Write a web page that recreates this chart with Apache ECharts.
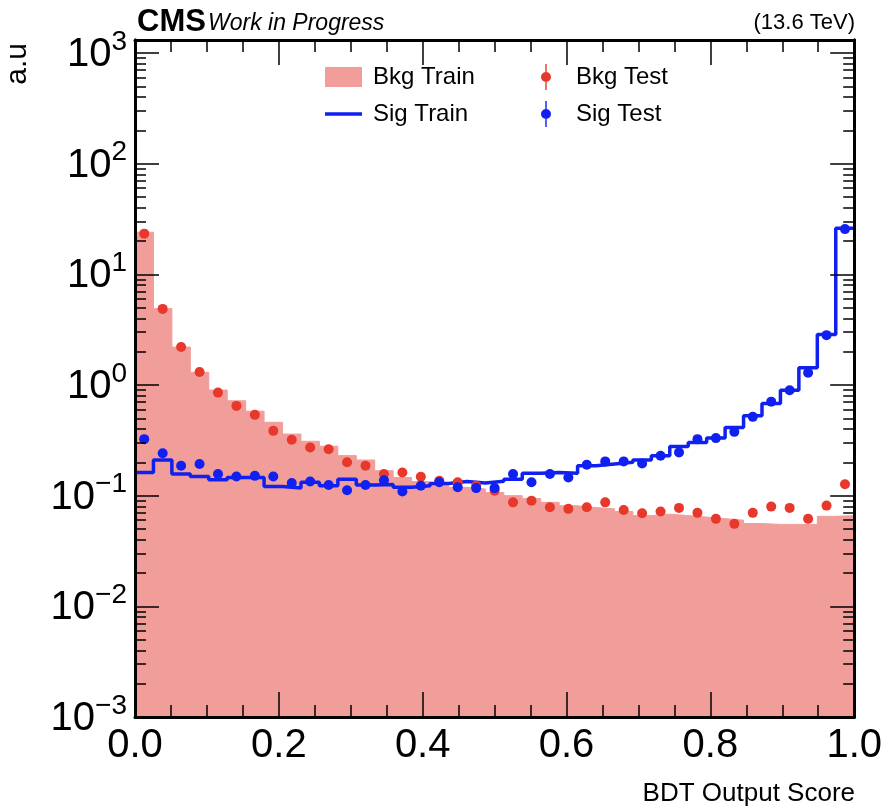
<!DOCTYPE html>
<html>
<head>
<meta charset="utf-8">
<script src="https://cdn.jsdelivr.net/npm/echarts@6.0.0/dist/echarts.min.js"></script>
<style>
  html, body { margin: 0; padding: 0; background: #fff; }
  #main { width: 885px; height: 811px; }
</style>
</head>
<body>
<div id="main"></div>
<script>
// 39 bins on [0, 1]
const nBins = 39
const bkgTrain = [24, 4.9, 2.2, 1.3, 0.9, 0.72, 0.58, 0.46, 0.36, 0.31, 0.28, 0.23, 0.21,
  0.168, 0.146, 0.134, 0.127, 0.119, 0.115, 0.107, 0.100, 0.094, 0.087, 0.081, 0.078, 0.076,
  0.072, 0.066, 0.068, 0.066, 0.064, 0.062, 0.060, 0.056, 0.055, 0.055, 0.055, 0.065, 0.066]
const bkgTest = [23.3, 4.87, 2.2, 1.31, 0.853, 0.647, 0.537, 0.385, 0.32, 0.272, 0.263, 0.2, 0.186,
  0.157, 0.162, 0.148, 0.136, 0.132, 0.123, 0.111, 0.087, 0.09, 0.0785, 0.076, 0.0785, 0.087,
  0.0743, 0.0693, 0.0718, 0.0775, 0.0699, 0.0617, 0.0556, 0.0699, 0.0796, 0.0775, 0.0617, 0.0813, 0.127]
const sigTrain = [0.162, 0.21, 0.157, 0.149, 0.139, 0.146, 0.146, 0.121, 0.117, 0.132, 0.123, 0.141, 0.125,
  0.126, 0.119, 0.123, 0.129, 0.134, 0.13, 0.135, 0.141, 0.159, 0.162, 0.159, 0.186, 0.193,
  0.2, 0.21, 0.229, 0.278, 0.302, 0.331, 0.413, 0.526, 0.68, 0.896, 1.43, 2.86, 26.1]
const sigTest = [0.324, 0.242, 0.186, 0.193, 0.157, 0.149, 0.151, 0.149, 0.13, 0.134, 0.125, 0.112, 0.125,
  0.138, 0.109, 0.123, 0.132, 0.119, 0.117, 0.117, 0.157, 0.132, 0.157, 0.146, 0.19, 0.204,
  0.204, 0.195, 0.229, 0.246, 0.324, 0.331, 0.377, 0.515, 0.707, 0.896, 1.29, 2.82, 25.6]
// y axis decades (exponents)
const yDecades = [-3, -2, -1, 0, 1, 2, 3]
const logMax = 3.117

const font = 'Liberation Sans'
const bkgFill = '#f19e9b'
const red = '#e8372b'
const blue = '#1020f0'

function stepData(vals) {
  const out = vals.map((v, i) => [i / nBins, v])
  out.push([1, vals[vals.length - 1]])
  return out
}
function pointData(vals) {
  return vals.map((v, i) => [(i + 0.5) / nBins, v])
}
const minorVals = []
yDecades.slice(0, -1).forEach((d) => {
  for (let k = 2; k <= 9; k++) minorVals.push(d + Math.log10(k))
})

const frameLine = { show: true, onZero: false, lineStyle: { color: '#000', width: 3 } }
const tickStyle = { color: '#000', width: 1.5 }

function yTickAxis(position, major, withLabel) {
  return {
    type: 'value',
    min: -3,
    max: logMax,
    position: position,
    z: 10,
    axisLine: frameLine,
    axisTick: {
      show: true,
      inside: true,
      length: major ? 24 : 11,
      lineStyle: tickStyle,
      customValues: major ? yDecades : minorVals
    },
    axisLabel: withLabel ? {
      show: true,
      margin: 8,
      customValues: yDecades,
      formatter: (v) => '{b|10}{s|' + (v < 0 ? '\u2212' + (-v) : v) + '}',
      rich: {
        b: { fontSize: 40, lineHeight: 50, padding: [4, 0, 0, 0], fontFamily: font, color: '#000' },
        s: { fontSize: 28, lineHeight: 30, verticalAlign: 'top', fontFamily: font, color: '#000' }
      }
    } : { show: false },
    splitLine: { show: false }
  }
}

function xTickAxis(position, withLabel) {
  return {
    type: 'value',
    min: 0,
    max: 1,
    interval: 0.2,
    position: position,
    z: 10,
    axisLine: frameLine,
    axisTick: { show: true, inside: true, length: 25, lineStyle: tickStyle },
    minorTick: { show: true, splitNumber: 4, length: 12, lineStyle: tickStyle },
    axisLabel: withLabel ? {
      show: true,
      margin: 9,
      fontSize: 40,
      fontFamily: font,
      color: '#000',
      formatter: (v) => v.toFixed(1)
    } : { show: false },
    splitLine: { show: false }
  }
}

const errIcon = 'path://M4.3,0h1.4v26h-1.4z M0,13a5,5 0 1 1 10,0a5,5 0 1 1 -10,0z'
const lineIcon = 'path://M0,0h37v0.01h-37z M0,8.25h37v3.5h-37z M0,19.99h37v0.01h-37z'

const chart = echarts.init(document.getElementById('main'))
const option = {
  backgroundColor: '#fff',
  animation: false,
  grid: { left: 135, right: 30, top: 40, bottom: 94 },
  xAxis: [xTickAxis('bottom', true), xTickAxis('top', false)],
  yAxis: [
    { type: 'log', logBase: 10, min: 1e-3, max: Math.pow(10, logMax), show: false },
    yTickAxis('left', true, true),
    yTickAxis('left', false, false),
    yTickAxis('right', true, false),
    yTickAxis('right', false, false)
  ],
  legend: [
    {
      data: [
        { name: 'Bkg Train', icon: 'rect' },
        { name: 'Sig Train', icon: lineIcon }
      ],
      orient: 'vertical',
      left: 320,
      top: 60,
      itemWidth: 37,
      itemHeight: 20,
      itemGap: 13,
      textStyle: { fontSize: 24, fontFamily: font, color: '#000', padding: [0, 0, 0, 6] }
    },
    {
      data: [
        { name: 'Bkg Test', icon: errIcon },
        { name: 'Sig Test', icon: errIcon }
      ],
      orient: 'vertical',
      left: 536,
      top: 59,
      itemWidth: 10,
      itemHeight: 26,
      itemGap: 11,
      textStyle: { fontSize: 24, fontFamily: font, color: '#000', padding: [0, 0, 0, 20] }
    }
  ],
  graphic: [
    { type: 'text', x: 137, y: 22, style: { text: 'CMS', font: 'bold 31px "Liberation Sans"', fill: '#000', textVerticalAlign: 'middle' } },
    { type: 'text', x: 208, y: 24, style: { text: 'Work in Progress', font: 'italic 23px "Liberation Sans"', fill: '#000', textVerticalAlign: 'middle' } },
    { type: 'text', x: 855, y: 23, style: { text: '(13.6 TeV)', font: '22px "Liberation Sans"', fill: '#000', textAlign: 'right', textVerticalAlign: 'middle' } },
    { type: 'text', x: 855, y: 794, style: { text: 'BDT Output Score', font: '26px "Liberation Sans"', fill: '#000', textAlign: 'right', textVerticalAlign: 'middle' } },
    { type: 'text', x: 18, y: 43, rotation: Math.PI / 2, style: { text: 'a.u', font: '30px "Liberation Sans"', fill: '#000', textAlign: 'right', textVerticalAlign: 'middle' } }
  ],
  series: [
    {
      name: 'Bkg Train',
      type: 'line',
      step: 'end',
      xAxisIndex: 0,
      yAxisIndex: 0,
      data: stepData(bkgTrain),
      symbol: 'none',
      color: bkgFill,
      lineStyle: { width: 1, color: bkgFill },
      areaStyle: { color: bkgFill, opacity: 1, origin: 'start' },
      z: 1
    },
    {
      name: 'Sig Train',
      type: 'line',
      step: 'end',
      xAxisIndex: 0,
      yAxisIndex: 0,
      data: stepData(sigTrain),
      symbol: 'none',
      color: blue,
      lineStyle: { width: 3.5, color: blue },
      z: 2
    },
    {
      name: 'Bkg Test',
      type: 'scatter',
      xAxisIndex: 0,
      yAxisIndex: 0,
      data: pointData(bkgTest),
      symbol: 'circle',
      symbolSize: 10,
      color: red,
      itemStyle: { opacity: 1 },
      z: 3
    },
    {
      name: 'Sig Test',
      type: 'scatter',
      xAxisIndex: 0,
      yAxisIndex: 0,
      data: pointData(sigTest),
      symbol: 'circle',
      symbolSize: 10,
      color: blue,
      itemStyle: { opacity: 1 },
      z: 4
    }
  ]
}
chart.setOption(option)
</script>
</body>
</html>
